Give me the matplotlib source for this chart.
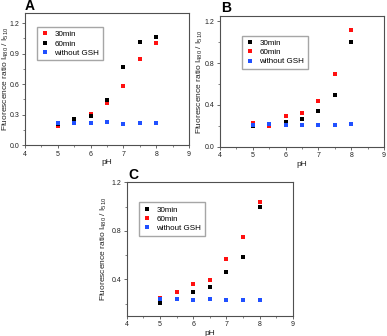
import matplotlib
matplotlib.use("Agg")
import matplotlib.pyplot as plt
from matplotlib.ticker import MultipleLocator, AutoMinorLocator

plt.rcParams['font.family'] = ['Liberation Sans', 'DejaVu Sans']
plt.rcParams['mathtext.default'] = 'regular'

ph = [5.0, 5.5, 6.0, 6.5, 7.0, 7.5, 8.0]

# Panel A
a_30min = [0.19, 0.24, 0.31, 0.41, 0.58, 0.85, 1.00]
a_60min = [0.21, 0.257, 0.29, 0.445, 0.77, 1.01, 1.06]
a_nogsh = [0.218, 0.218, 0.22, 0.228, 0.21, 0.22, 0.215]

# Panel B
b_30min = [0.197, 0.213, 0.235, 0.263, 0.346, 0.495, 1.003]
b_60min = [0.222, 0.20, 0.295, 0.324, 0.435, 0.692, 1.12]
b_nogsh = [0.21, 0.213, 0.206, 0.21, 0.21, 0.21, 0.216]

# Panel C
c_30min = [0.208, 0.235, 0.293, 0.34, 0.463, 0.58, 0.994]
c_60min = [0.246, 0.293, 0.364, 0.395, 0.568, 0.746, 1.038]
c_nogsh = [0.24, 0.24, 0.232, 0.235, 0.227, 0.23, 0.232]

series_labels = ["30min", "60min", "without GSH"]
panel_letters = ["A", "B", "C"]

RED = "#ff1010"
BLACK = "#000000"
BLUE = "#2050ff"
FRAME = "#505050"

W, H = 387, 336
fig = plt.figure(figsize=(W / 100, H / 100), dpi=100)


def px_axes(left, top, right, bottom):
    return fig.add_axes([left / W, (H - bottom) / H, (right - left) / W, (bottom - top) / H])


def style(ax, ylim, ystep, ylabel_x):
    ax.set_xlim(4, 9)
    ax.set_ylim(*ylim)
    ax.xaxis.set_major_locator(MultipleLocator(1))
    ax.xaxis.set_minor_locator(AutoMinorLocator(2))
    ax.yaxis.set_major_locator(MultipleLocator(ystep))
    ax.yaxis.set_minor_locator(AutoMinorLocator(2))
    for s in ax.spines.values():
        s.set_color(FRAME)
        s.set_linewidth(0.8)
    ax.tick_params(which='major', direction='out', length=2.5, width=0.6,
                   colors=FRAME, labelsize=5, labelcolor='#222222', pad=1.5)
    ax.tick_params(which='minor', direction='out', length=1.5, width=0.5, colors=FRAME)
    ax.set_xlabel("pH", fontsize=6, labelpad=1, color='#222222')
    ax.set_ylabel("Fluorescence ratio I$_{480}$ / I$_{510}$", fontsize=6,
                  color='#222222')
    ax.yaxis.set_label_coords(ylabel_x, 0.5)


def draw(ax, first, second, third, colors, legend_anchor):
    ms = 3.2
    ax.plot(ph, first, 's', color=colors[0], ms=ms, mew=0, label=series_labels[0])
    ax.plot(ph, second, 's', color=colors[1], ms=ms, mew=0, label=series_labels[1])
    ax.plot(ph, third, 's', color=BLUE, ms=ms, mew=0, label=series_labels[2])
    leg = ax.legend(loc='upper left', bbox_to_anchor=legend_anchor, fontsize=5.8,
                    frameon=True, fancybox=False, handlelength=1.0,
                    handletextpad=0.7, borderpad=0.45, labelspacing=0.2,
                    markerscale=0.9, borderaxespad=0)
    leg.get_frame().set_edgecolor('#909090')
    leg.get_frame().set_linewidth(1.0)


# Panel A: red is 30 min, black is 60 min
axA = px_axes(25, 13, 189, 145)
style(axA, (0, 1.3), 0.3, -0.088)
draw(axA, a_30min, a_60min, a_nogsh, [RED, BLACK], (0.073, 0.894))
fig.text(25 / W, 1 - 13 / H, panel_letters[0], fontsize=10, fontweight='bold',
         va='bottom', ha='left')

# Panel B: black is 30 min, red is 60 min
axB = px_axes(220, 16, 384, 146.7)
style(axB, (0, 1.25), 0.4, -0.09)
draw(axB, b_30min, b_60min, b_nogsh, [BLACK, RED], (0.134, 0.85))
fig.text(221 / W, 1 - 15 / H, panel_letters[1], fontsize=10, fontweight='bold',
         va='bottom', ha='left')

# Panel C: black is 30 min, red is 60 min
axC = px_axes(126.7, 182.3, 292.7, 315.7)
style(axC, (0.1, 1.2), 0.4, -0.107)
draw(axC, c_30min, c_60min, c_nogsh, [BLACK, RED], (0.075, 0.85))
fig.text(128 / W, 1 - 182 / H, panel_letters[2], fontsize=10, fontweight='bold',
         va='bottom', ha='left')

fig.savefig("out.png", dpi=100)
